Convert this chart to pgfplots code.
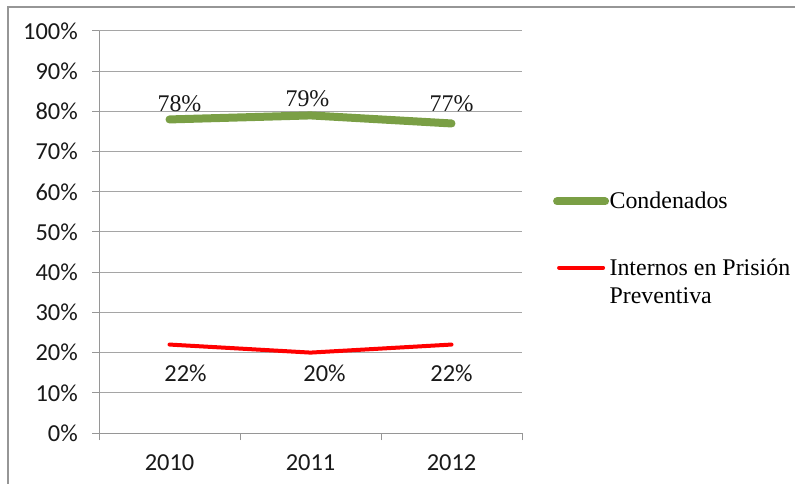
\documentclass[border=0pt]{standalone}
\usepackage{pgfplots}
\pgfplotsset{compat=1.18}
\usepackage{fontspec}
\setmainfont{Carlito}
\newfontfamily\legfont{Liberation Serif}
\definecolor{cgreen}{RGB}{122,159,69}
\definecolor{gridc}{RGB}{165,165,165}
\definecolor{axc}{RGB}{150,150,150}
\pgfplotsset{
  greenleg/.style={legend image code/.code={\draw[##1] (0bp,0bp) -- (48bp,0bp);}},
  redleg/.style={legend image code/.code={\path (0bp,-14bp); \draw[##1] (2bp,14bp) -- (46bp,14bp);}},
}
\begin{document}
\begin{tikzpicture}
\path[use as bounding box] (0,0) rectangle (795bp,484bp);
\draw[axc, line width=1.5bp] (8bp,0) -- (8bp,477bp) -- (795bp,477bp);
\begin{axis}[
  at={(99bp,51bp)}, anchor=south west,
  scale only axis, width=423bp, height=402bp,
  xmin=-0.5, xmax=2.5, ymin=0, ymax=100,
  xtick={0,1,2}, xticklabels={2010,2011,2012},
  major x tick style={draw=none},
  minor xtick={-0.5,0.5,1.5,2.5},
  minor x tick style={axc, line width=1bp},
  ytick={0,10,...,100},
  yticklabel={\pgfmathprintnumber{\tick}\%},
  /pgf/number format/assume math mode=true,
  ymajorgrids, grid style={gridc, line width=1bp},
  major y tick style={axc, line width=1bp},
  tick align=outside, major tick length=7bp, minor tick length=7bp,
  axis line style={axc, line width=1bp},
  axis x line*=bottom, axis y line*=left,
  every tick label/.append style={font=\fontsize{24.5}{29}\selectfont, text=black!90, inner sep=0pt},
  xticklabel style={yshift=-14bp},
  yticklabel style={xshift=-14bp},
  clip=false,
  legend style={at={(1.073,0.604)}, anchor=north west, draw=none, fill=none,
    inner sep=0pt, row sep=44bp, column sep=0pt, font=\legfont\fontsize{24}{28.5}\selectfont,
    align=left, cells={anchor=west}, nodes={inner xsep=0.5bp}},
]
\addplot[cgreen, line width=8bp, line cap=round, line join=round, greenleg,
  visualization depends on={x \as \xv},
  visualization depends on={y \as \yv},
  nodes near coords={\pgfmathprintnumber{\pgfplotspointmeta}\%},
  every node near coord/.append style={font=\legfont\fontsize{24}{28}\selectfont, text=black!90, anchor=base, inner sep=0pt,
    yshift={(321.3-4.02*\yv+5*(\xv==1))*1bp}, xshift={(10*(\xv==0)-3*(\xv==1))*1bp}}]
  coordinates {(0,78) (1,79) (2,77)};
\addlegendentry{Condenados}
\addplot[red, line width=4bp, line cap=round, line join=round, redleg,
  visualization depends on={x \as \xv},
  visualization depends on={y \as \yv},
  nodes near coords={\pgfmathprintnumber{\pgfplotspointmeta}\%},
  every node near coord/.append style={font=\fontsize{24.5}{29}\selectfont, text=black!90, anchor=north, inner sep=0pt,
    yshift={(70-4.02*\yv)*1bp}, xshift={(16*(\xv==0)+14*(\xv==1))*1bp}}]
  coordinates {(0,22) (1,20) (2,22)};
\addlegendentry{Internos en Prisión\\Preventiva}
\end{axis}
\end{tikzpicture}
\end{document}
